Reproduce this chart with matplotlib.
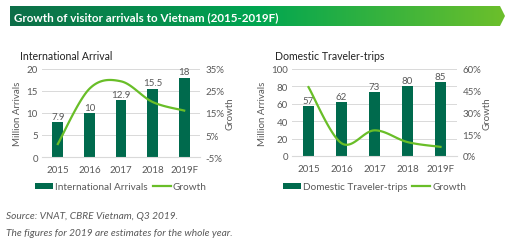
import numpy as np
import matplotlib.pyplot as plt
from matplotlib.patches import Polygon, Patch
from matplotlib.lines import Line2D
from matplotlib.colors import LinearSegmentedColormap

years = ["2015", "2016", "2017", "2018", "2019F"]
intl_arrivals = [7.9, 10, 12.9, 15.5, 18]
intl_growth = [0.9, 26.0, 29.4, 20.0, 16.1]
dom_trips = [57, 62, 73, 80, 85]
dom_growth = [47.5, 8.8, 17.7, 9.6, 6.3]

BAR = "#006a4d"
LINE = "#69be28"
GRAY = "#595959"
GRID = "#d9d9d9"

plt.rcParams['font.family'] = ['Lato', 'DejaVu Sans']

W, H = 512, 251
fig = plt.figure(figsize=(W / 100, H / 100), dpi=100)


def px(x, y, w, h):
    # pixel box (top-left origin) -> figure fraction
    return [x / W, (H - y - h) / H, w / W, h / H]


def smooth(xs, ys, n=24):
    # Bezier smoothing like a spreadsheet "smoothed line"
    xs = np.asarray(xs, float)
    ys = np.asarray(ys, float)
    px_, py_ = [], []
    for i in range(len(xs) - 1):
        p0 = (xs[max(i - 1, 0)], ys[max(i - 1, 0)])
        p1 = (xs[i], ys[i])
        p2 = (xs[i + 1], ys[i + 1])
        p3 = (xs[min(i + 2, len(xs) - 1)], ys[min(i + 2, len(xs) - 1)])
        c1 = (p1[0] + (p2[0] - p0[0]) / 6, p1[1] + (p2[1] - p0[1]) / 6)
        c2 = (p2[0] - (p3[0] - p1[0]) / 6, p2[1] - (p3[1] - p1[1]) / 6)
        t = np.linspace(0, 1, n)
        bx = (1 - t) ** 3 * p1[0] + 3 * (1 - t) ** 2 * t * c1[0] + 3 * (1 - t) * t ** 2 * c2[0] + t ** 3 * p2[0]
        by = (1 - t) ** 3 * p1[1] + 3 * (1 - t) ** 2 * t * c1[1] + 3 * (1 - t) * t ** 2 * c2[1] + t ** 3 * p2[1]
        px_.extend(bx)
        py_.extend(by)
    return px_, py_


# title banner with gradient and arrow tip
bax = fig.add_axes([0, 0, 1, 1], zorder=-1)
bax.set_xlim(0, W)
bax.set_ylim(H, 0)
bax.axis("off")
cmap = LinearSegmentedColormap.from_list("banner", ["#0d6e48", "#00a651", "#6cbf2b"])
grad = np.linspace(0, 1, 256).reshape(1, -1)
im = bax.imshow(grad, cmap=cmap, extent=[10, 505, 27, 7], aspect="auto")
arrow = Polygon([[10, 7], [500, 7], [505, 17], [500, 27], [10, 27]], closed=True,
                transform=bax.transData, facecolor="none", edgecolor="none")
bax.add_patch(arrow)
im.set_clip_path(arrow)
bax.text(14, 17.5, "Growth of visitor arrivals to Vietnam (2015-2019F)", color="white",
         fontsize=8.4, fontweight="bold", va="center", ha="left")

TICK = 7


def panel(box, title, title_xy, vals, growth, ylim, yticks, glim, gticks, legend_name, leg_y):
    ax = fig.add_axes(px(*box))
    x = np.arange(len(years))
    bars = ax.bar(x, vals, width=0.34, color=BAR, zorder=2)
    ax.bar_label(bars, labels=[f"{v:g}" for v in vals], padding=1, fontsize=7, color=GRAY)
    ax.set_xlim(-0.5, len(years) - 0.5)
    ax.set_ylim(*ylim)
    ax.set_yticks(yticks)
    ax.set_xticks(x, years)
    ax.grid(axis="y", color=GRID, linewidth=0.7, zorder=0)
    for s in ["left", "right", "top"]:
        ax.spines[s].set_visible(False)
    ax.spines["bottom"].set_color(GRID)
    ax.tick_params(length=0, labelsize=TICK, colors=GRAY, pad=3)
    ax.tick_params(axis="x", pad=6)
    ax.set_ylabel("Million Arrivals", fontsize=TICK, color=GRAY, labelpad=3)

    ax2 = ax.twinx()
    sx, sy = smooth(x, growth)
    ax2.plot(sx, sy, color=LINE, linewidth=1.6, zorder=3)
    ax2.set_ylim(*glim)
    ax2.set_yticks(gticks, [f"{g}%" for g in gticks])
    for s in ["left", "right", "top", "bottom"]:
        ax2.spines[s].set_visible(False)
    ax2.tick_params(length=0, labelsize=TICK, colors=GRAY, pad=4)
    ax2.set_ylabel("Growth", fontsize=TICK, color=GRAY, labelpad=1)

    fig.text(title_xy[0] / W, 1 - title_xy[1] / H, title, fontsize=7.6, color="#222222",
             va="center", ha="left")

    handles = [Patch(facecolor=BAR), Line2D([0], [0], color=LINE, linewidth=1.6)]
    fig.legend(handles, [legend_name, "Growth"], loc="center",
               bbox_to_anchor=((box[0] + box[2] / 2) / W, 1 - leg_y / H),
               ncol=2, frameon=False, fontsize=7.2, labelcolor=GRAY,
               handlelength=1.8, handleheight=0.5, handletextpad=0.2, columnspacing=0.5)


panel((42, 70, 158, 88), "International Arrival", (20, 57), intl_arrivals, intl_growth,
      (0, 20), [0, 5, 10, 15, 20], (-5, 35), [-5, 5, 15, 25, 35], "International Arrivals", 188)
panel((292, 70, 165, 87), "Domestic Traveler-trips", (275, 57), dom_trips, dom_growth,
      (0, 100), [0, 20, 40, 60, 80, 100], (0, 60), [0, 15, 30, 45, 60], "Domestic Traveler-trips", 188)

fig.text(6 / W, 1 - 217 / H, "Source: VNAT, CBRE Vietnam, Q3 2019.", fontsize=7.3,
         style="italic", color=GRAY, va="center")
fig.text(6 / W, 1 - 234 / H, "The figures for 2019 are estimates for the whole year.", fontsize=7.3,
         style="italic", color=GRAY, va="center")

fig.savefig("out.png", dpi=100)
